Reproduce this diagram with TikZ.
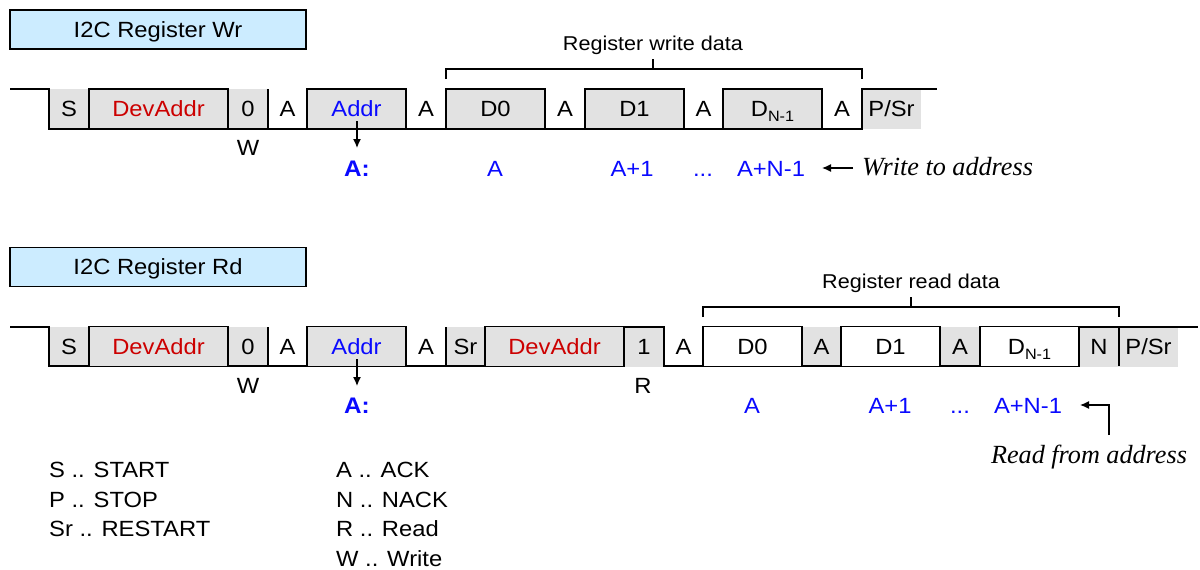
\documentclass[tikz,border=0pt]{standalone}
\usepackage{fontspec}
\setmainfont{Liberation Sans}[FakeStretch=1.08]
\newfontfamily\tms{Liberation Serif}
\usetikzlibrary{arrows.meta}
\definecolor{cellgray}{RGB}{226,226,226}
\definecolor{titleblue}{RGB}{204,236,255}
\definecolor{devred}{RGB}{204,0,0}
\definecolor{addrblue}{RGB}{10,10,255}
\newcommand{\dsub}[1]{D\raisebox{-4.7pt}{\fontsize{15}{15}\selectfont #1}}
\begin{document}
\begin{tikzpicture}[x=1pt,y=-1pt,
  every node/.style={font=\fontsize{22}{26}\selectfont, inner sep=0pt},
  cell/.style={minimum height=40pt, text height=15.8pt, text depth=0pt},
  gcell/.style={cell, fill=cellgray},
  gbox/.style={cell, fill=cellgray, draw=black, line width=1.6pt},
  wbox/.style={cell, fill=white, draw=black, line width=1.6pt},
  sig/.style={line width=1.6pt, line join=miter},
  brk/.style={line width=1.2pt},
  lbl/.style={anchor=base},
  blu/.style={anchor=base, text=addrblue},
  arr/.style={line width=1.3pt, -{Latex[length=9pt,width=8pt]}},
  titlebox/.style={draw=black, line width=1.6pt, fill=titleblue, minimum width=296pt, minimum height=39pt, text height=15.8pt, text depth=0pt},
  note/.style={anchor=base west, font=\tms\itshape\fontsize{26.2}{30}\selectfont},
  leg/.style={anchor=base west}
]
\useasboundingbox (0,0) rectangle (1200,570);

% ================= Write =================
\node[titlebox] (t1) at (158,29.5) {I2C Register Wr};

% unbordered gray cells
\node[gcell, minimum width=40pt] (s1) at (69,109) {S};
\node[gcell, minimum width=40pt] (z1) at (248,109) {0};
\node[gcell, minimum width=59pt] (p1) at (891.5,109) {P/Sr};
% waveform
\draw[sig] (10,89) -- (49,89) -- (49,129) -- (862,129) -- (862,89) -- (937,89);
\draw[sig] (268,89) -- (268,129);
% bordered cells
\node[gbox, minimum width=139pt] (dev1) at (158.5,109) {\textcolor{devred}{DevAddr}};
\node[gbox, minimum width=99pt] (addr1) at (356.5,109) {\textcolor{addrblue}{Addr}};
\node[gbox, minimum width=99pt] (d01) at (495.5,109) {D0};
\node[gbox, minimum width=99pt] (d11) at (634.5,109) {D1};
\node[gbox, minimum width=99pt] (dn1) at (772.5,109) {\dsub{N-1}};
% acks
\node[cell] (a11) at (287.5,109) {A};
\node[cell] (a12) at (426,109) {A};
\node[cell] (a13) at (565,109) {A};
\node[cell] (a14) at (703.5,109) {A};
\node[cell] (a15) at (842,109) {A};

% bracket
\draw[brk] (446,79) -- (446,69) -- (862,69) -- (862,79);
\draw[brk] (653,69) -- (653,59);
\node[lbl, font=\fontsize{20}{24}\selectfont] (rw) at (653,50) {Register write data};

% labels below
\node[lbl] (w1) at (248,155) {W};
\coordinate (as1) at (357,121);
\coordinate (ae1) at (357,148);
\draw[arr] (as1) -- (ae1);
\node[blu, font=\fontsize{22.5}{26}\selectfont\bfseries] (ac1) at (357,176) {A:};
\node[blu] (x10) at (495,176) {A};
\node[blu] (x11) at (632,176) {A+1};
\node[blu] (x12) at (703,176) {...};
\node[blu] (x13) at (771,176) {A+N-1};
\node[note] (wta) at (862,175) {Write to address};
\coordinate (wa) at (853,168);
\coordinate (wb) at (822,168);
\draw[arr] (wa) -- (wb);

% ================= Read =================
\node[titlebox] (t2) at (158,267) {I2C Register Rd};

\node[gcell, minimum width=40pt] (s2) at (69,346.5) {S};
\node[gcell, minimum width=40pt] (z2) at (248,346.5) {0};
\node[gcell, minimum width=39pt] (sr2) at (465.5,346.5) {Sr};
\node[gcell, minimum width=40pt] (o2) at (644,346.5) {1};
\node[gcell, minimum width=39pt] (a26) at (821.5,346.5) {A};
\node[gcell, minimum width=40pt] (a27) at (960,346.5) {A};
\node[gcell, minimum width=40pt] (n2) at (1099,346.5) {N};
\node[gcell, minimum width=59pt] (p2) at (1148.5,346.5) {P/Sr};
% waveform
\draw[sig] (10,327) -- (49,327) -- (49,366) -- (624,366) -- (624,327) -- (664,327) -- (664,366) -- (1079,366) -- (1079,327) -- (1198,327);
\draw[sig] (268,327) -- (268,366);
\draw[sig] (446,327) -- (446,366);
\draw[sig] (1119,327) -- (1119,366);
% bordered
\node[gbox, minimum width=139pt] (dev2) at (158.5,346.5) {\textcolor{devred}{DevAddr}};
\node[gbox, minimum width=99pt] (addr2) at (356.5,346.5) {\textcolor{addrblue}{Addr}};
\node[gbox, minimum width=139pt] (dev3) at (554.5,346.5) {\textcolor{devred}{DevAddr}};
\node[wbox, minimum width=99pt] (d02) at (752.5,346.5) {D0};
\node[wbox, minimum width=99pt] (d12) at (890.5,346.5) {D1};
\node[wbox, minimum width=99pt] (dn2) at (1029.5,346.5) {\dsub{N-1}};
% acks
\node[cell] (a21) at (287.5,346.5) {A};
\node[cell] (a22) at (426,346.5) {A};
\node[cell] (a23) at (683.5,346.5) {A};

% bracket
\draw[brk] (703,317) -- (703,307) -- (1119,307) -- (1119,317);
\draw[brk] (911,307) -- (911,297);
\node[lbl, font=\fontsize{20}{24}\selectfont] (rr) at (911,288) {Register read data};

% labels below
\node[lbl] (w2) at (248,393) {W};
\node[lbl] (r2) at (643,393) {R};
\coordinate (as2) at (357,359);
\coordinate (ae2) at (357,386);
\draw[arr] (as2) -- (ae2);
\node[blu, font=\fontsize{22.5}{26}\selectfont\bfseries] (ac2) at (357,413) {A:};
\node[blu] (x20) at (752,413) {A};
\node[blu] (x21) at (890,413) {A+1};
\node[blu] (x22) at (960,413) {...};
\node[blu] (x23) at (1028,413) {A+N-1};
\node[note, anchor=base] (rfa) at (1089,463) {Read from address};
\coordinate (ra) at (1109,435);
\coordinate (rb) at (1080,405);
\draw[arr] (ra) |- (rb);

% ================= Legend =================
\node[leg] (l1) at (49,477) {S .. START};
\node[leg] (l2) at (49,507) {P .. STOP};
\node[leg] (l3) at (49,536) {Sr .. RESTART};
\node[leg] (l4) at (336,477) {A .. ACK};
\node[leg] (l5) at (336,507) {N .. NACK};
\node[leg] (l6) at (336,536) {R .. Read};
\node[leg] (l7) at (336,566) {W .. Write};
\end{tikzpicture}
\end{document}
